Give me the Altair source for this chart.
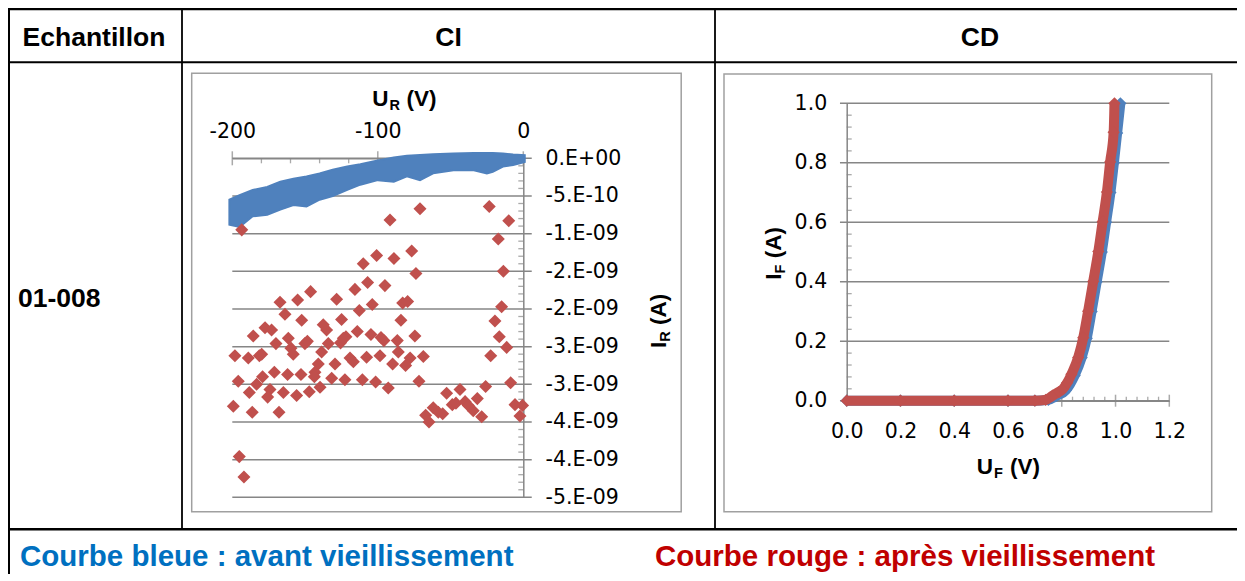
import altair as alt
import pandas as pd

# ---------------- data ----------------
# CI (reverse characteristic), after ageing (red markers): U_R in V, I_R in nA
CI_RED_U = [-193.5, -17.2, -76.7, -100.8, -88.9, -110.0, -13.7, -73.8, -107.0, -95.1,
            -115.7, -146.2, -167.2, -155.1, -128.3, -82.9, -79.5, -103.8, -112.7, -14.9,
            -163.8, -124.9, -152.3, -84.1, -19.5, -137.5, -135.2, -177.5, -173.0, -185.6,
            -114.1, -104.7, -121.9, -97.8, -95.8, -86.6, -74.5, -16.5, -161.5, -170.0,
            -150.1, -148.4, -134.0, -125.6, -123.7, -159.7, -158.1, -138.6, -11.4, -198.2,
            -189.0, -181.4, -179.8, -85.9, -107.7, -98.5, -77.8, -68.7, -22.4, -119.1,
            -116.8, -129.4, -140.9, -143.2, -89.8, -80.9, -171.1, -162.0, -152.8, -143.6,
            -131.7, -122.6, -110.6, -101.5, -92.8, -71.7, -8.7, -25.9, -179.2, -183.3,
            -195.9, -188.3, -174.1, -175.7, -164.9, -155.8, -147.1, -139.7, -199.3, -186.3,
            -167.9, -52.7, -43.5, -48.8, -46.3, -40.0, -31.6, -37.8, -34.4, -28.6,
            -61.9, -67.1, -64.8, -58.4, -55.4, -5.7, -0.5, -2.3, -195.2, -192.0,
            -91.6, -71.0, -23.4, -10.0]
CI_RED_I = [-0.95, -1.07, -1.23, -1.29, -1.33, -1.40, -1.50, -1.53, -1.65, -1.69,
            -1.74, -1.77, -1.91, -1.88, -1.87, -1.92, -1.90, -1.94, -2.02, -1.97,
            -2.07, -2.14, -2.15, -2.15, -2.16, -2.21, -2.28, -2.25, -2.28, -2.36,
            -2.30, -2.34, -2.37, -2.38, -2.42, -2.42, -2.36, -2.37, -2.39, -2.46,
            -2.46, -2.43, -2.46, -2.45, -2.39, -2.52, -2.60, -2.57, -2.51, -2.62,
            -2.65, -2.62, -2.60, -2.57, -2.64, -2.62, -2.65, -2.63, -2.62, -2.65,
            -2.70, -2.73, -2.73, -2.84, -2.73, -2.75, -2.84, -2.87, -2.87, -2.90,
            -2.92, -2.94, -2.94, -2.97, -3.05, -2.96, -2.98, -3.03, -2.90, -3.00,
            -2.96, -3.11, -3.07, -3.17, -3.11, -3.15, -3.10, -3.04, -3.29, -3.37,
            -3.37, -3.12, -3.07, -3.27, -3.25, -3.23, -3.19, -3.28, -3.35, -3.43,
            -3.31, -3.41, -3.50, -3.37, -3.39, -3.27, -3.28, -3.42, -3.96, -4.23,
            -0.82, -0.67, -0.64, -0.83]

# CI before ageing (blue): dense markers forming a band; upper / lower envelope (nA)
CI_BLUE_U = [-202, -195, -186, -176, -167, -158, -149, -140, -131, -121, -112, -100,
             -89, -80, -71, -62, -48, -34, -25, -21, -14, -7, 1]
CI_BLUE_HI = [-0.55, -0.49, -0.42, -0.38, -0.31, -0.27, -0.24, -0.20, -0.15, -0.11, -0.08, -0.03,
              0.01, 0.035, 0.045, 0.055, 0.065, 0.07, 0.07, 0.07, 0.065, 0.05, 0.04]
CI_BLUE_LO = [-0.88, -0.91, -0.77, -0.75, -0.68, -0.62, -0.64, -0.55, -0.50, -0.42, -0.35, -0.29,
              -0.31, -0.24, -0.29, -0.20, -0.16, -0.16, -0.20, -0.18, -0.11, -0.09, -0.05]

# CD (forward characteristic): U_F in V, I_F in A
CD_BLUE_U = [0.0, 0.2, 0.4, 0.6, 0.7, 0.75, 0.778, 0.815, 0.848, 0.874, 0.893, 0.911,
             0.930, 0.949, 0.965, 0.981, 0.994, 1.006, 1.018]
CD_BLUE_I = [0.0, 0.0, 0.0, 0.0, 0.0, 0.003, 0.015, 0.035, 0.085, 0.145, 0.21, 0.30,
             0.40, 0.50, 0.60, 0.70, 0.80, 0.90, 1.0]
CD_RED_U = [0.0, 0.2, 0.4, 0.6, 0.7, 0.74, 0.766, 0.79, 0.804, 0.82, 0.836, 0.861,
            0.880, 0.898, 0.917, 0.936, 0.952, 0.968, 0.980, 0.993, 0.996]
CD_RED_I = [0.0, 0.0, 0.0, 0.0, 0.0, 0.003, 0.017, 0.03, 0.039, 0.06, 0.089, 0.145,
            0.212, 0.301, 0.401, 0.502, 0.602, 0.702, 0.803, 0.903, 1.0]

# axes
CI_X_TICKS = [-200, -100, 0]
CI_X_MINOR = [-180, -160, -140, -120, -80, -60, -40, -20]
CI_Y_TICKS = [0, -0.5, -1.0, -1.5, -2.0, -2.5, -3.0, -3.5, -4.0, -4.5]   # nA
CI_Y_LABELS = ["0.E+00", "-5.E-10", "-1.E-09", "-2.E-09", "-2.E-09",
               "-3.E-09", "-3.E-09", "-4.E-09", "-4.E-09", "-5.E-09"]
CI_Y_MINOR = [round(-0.1 * k, 1) for k in range(1, 45) if k % 5 != 0]
CD_X_TICKS = [0.0, 0.2, 0.4, 0.6, 0.8, 1.0, 1.2]
CD_Y_TICKS = [0.0, 0.2, 0.4, 0.6, 0.8, 1.0]
CD_X_MINOR = [round(0.04 * k, 2) for k in range(1, 30) if k % 5 != 0]
CD_Y_MINOR = [round(0.04 * k, 2) for k in range(1, 25) if k % 5 != 0]

# ---------------- layout (page pixels) ----------------
W, H = 1229, 566
P = lambda v: v - 8

BLUE = "#4F81BD"
RED = "#C0504D"
GRID = "#868686"
FRAME = "#A0A0A0"
LBL_FONT = "DejaVu Sans"
TTL_FONT = "Liberation Sans"

ci_x = alt.Scale(domain=[-200, 0], range=[P(232.3), P(523.3)], nice=False, zero=False)
ci_y = alt.Scale(domain=[-4.5, 0], range=[P(497.3), P(158.3)], nice=False, zero=False)
cd_x = alt.Scale(domain=[0, 1.2], range=[P(846.7), P(1169.3)], nice=False, zero=False)
cd_y = alt.Scale(domain=[0, 1.0], range=[P(400.7), P(103.3)], nice=False, zero=False)

one = alt.Data(values=[{}])


def hline(y, x1, x2, w, color="black"):
    return alt.Chart(one).mark_rule(color=color, strokeWidth=w).encode(
        x=alt.value(P(x1)), x2=alt.value(P(x2)), y=alt.value(P(y)))


def vline(x, y1, y2, w, color="black"):
    return alt.Chart(one).mark_rule(color=color, strokeWidth=w).encode(
        x=alt.value(P(x)), y=alt.value(P(y1)), y2=alt.value(P(y2)))


def frame(x1, y1, x2, y2):
    return alt.Chart(one).mark_rect(fillOpacity=0, stroke=FRAME, strokeWidth=1.5).encode(
        x=alt.value(P(x1)), x2=alt.value(P(x2)), y=alt.value(P(y1)), y2=alt.value(P(y2)))


def txt(s, x, y, size, color="black", font=TTL_FONT, weight="bold", align="left", angle=0):
    return alt.Chart(one).mark_text(text=s, font=font, fontSize=size, fontWeight=weight,
                                    color=color, align=align, baseline="alphabetic",
                                    angle=angle).encode(x=alt.value(P(x)), y=alt.value(P(y)))


layers = []

# ---- table ----
layers += [
    hline(9.0, 0, 1260, 2.5),
    hline(62.2, 0, 1260, 2.0),
    hline(529.3, 0, 1260, 2.5),
    vline(9.0, 8, 600, 2.0),
    vline(182, 9, 529.3, 1.8),
    vline(715, 9, 529.3, 1.8),
    frame(191.7, 73.3, 681.2, 511.7),
    frame(724, 74, 1211.7, 511.7),
]

# ---- CI gridlines and ticks ----
ci_grid = pd.DataFrame({"v": CI_Y_TICKS})
layers.append(
    alt.Chart(ci_grid).mark_rule(color=GRID, strokeWidth=1.5).encode(
        y=alt.Y("v:Q", scale=ci_y, axis=None),
        x=alt.XDatum(-200, scale=ci_x, axis=None),
        x2=alt.X2Datum(5.8)))
layers.append(
    alt.Chart(pd.DataFrame({"v": CI_Y_MINOR})).mark_tick(
        orient="horizontal", color=GRID, thickness=1.3, xOffset=-2.5).encode(
        y=alt.Y("v:Q", scale=ci_y, axis=None),
        x=alt.XDatum(0, scale=ci_x, axis=None),
        size=alt.value(5)))
layers.append(
    alt.Chart(pd.DataFrame({"v": CI_X_MINOR})).mark_tick(
        orient="vertical", color=GRID, thickness=1.3, yOffset=2.5).encode(
        x=alt.X("v:Q", scale=ci_x, axis=None),
        y=alt.YDatum(0, scale=ci_y, axis=None),
        size=alt.value(5)))
layers.append(
    alt.Chart(pd.DataFrame({"v": CI_X_TICKS})).mark_tick(
        orient="vertical", color=GRID, thickness=1.5).encode(
        x=alt.X("v:Q", scale=ci_x, axis=None),
        y=alt.YDatum(0, scale=ci_y, axis=None),
        size=alt.value(14)))

# ---- CI data ----
ci_blue = pd.DataFrame({"U": CI_BLUE_U, "hi": CI_BLUE_HI, "lo": CI_BLUE_LO})
layers.append(
    alt.Chart(ci_blue).mark_area(color=BLUE, opacity=1, interpolate="linear",
                                 stroke=BLUE, strokeWidth=2, strokeJoin="miter").encode(
        x=alt.X("U:Q", scale=ci_x, axis=alt.Axis(
            orient="top", offset=-P(158.3), values=CI_X_TICKS, title=None, grid=False,
            ticks=False, tickSize=0, labelPadding=17, labelFlush=False, labelOverlap=False,
            labelExpr="toString(datum.value)",
            labelFont=LBL_FONT, labelFontSize=20.5, labelColor="black",
            domainColor=GRID, domainWidth=1.5)),
        y=alt.Y("hi:Q", scale=ci_y, axis=None),
        y2="lo:Q"))
ci_red = pd.DataFrame({"U": CI_RED_U, "I": CI_RED_I})
label_js = "[" + ",".join("'%s'" % s for s in CI_Y_LABELS) + "]"
layers.append(
    alt.Chart(ci_red).mark_point(shape="diamond", filled=True, size=170, opacity=1,
                                 color=RED).encode(
        x=alt.X("U:Q", scale=ci_x, axis=None),
        y=alt.Y("I:Q", scale=ci_y, axis=alt.Axis(
            orient="right", offset=P(523.3) - W, values=CI_Y_TICKS, title=None, grid=False,
            ticks=False, tickSize=0, labelPadding=21.7, labelAlign="left",
            labelFlush=False, labelOverlap=False,
            labelExpr=label_js + "[round(-datum.value * 2)]",
            labelFont=LBL_FONT, labelFontSize=20.5, labelColor="black",
            domainColor=GRID, domainWidth=1.5))))

# ---- CD gridlines and ticks ----
layers.append(
    alt.Chart(pd.DataFrame({"v": CD_Y_TICKS})).mark_rule(color=GRID, strokeWidth=1.5).encode(
        y=alt.Y("v:Q", scale=cd_y, axis=None),
        x=alt.XDatum(-0.025, scale=cd_x, axis=None),
        x2=alt.X2Datum(1.2)))
layers.append(
    alt.Chart(pd.DataFrame({"v": CD_Y_MINOR})).mark_tick(
        orient="horizontal", color=GRID, thickness=1.3, xOffset=2.5).encode(
        y=alt.Y("v:Q", scale=cd_y, axis=None),
        x=alt.XDatum(0, scale=cd_x, axis=None),
        size=alt.value(5)))
layers.append(
    alt.Chart(pd.DataFrame({"v": CD_X_MINOR})).mark_tick(
        orient="vertical", color=GRID, thickness=1.3, yOffset=-2).encode(
        x=alt.X("v:Q", scale=cd_x, axis=None),
        y=alt.YDatum(0, scale=cd_y, axis=None),
        size=alt.value(4)))
layers.append(
    alt.Chart(pd.DataFrame({"v": CD_X_TICKS})).mark_tick(
        orient="vertical", color=GRID, thickness=1.5).encode(
        x=alt.X("v:Q", scale=cd_x, axis=None),
        y=alt.YDatum(0, scale=cd_y, axis=None),
        size=alt.value(12)))

# ---- CD data ----
cd_blue = pd.DataFrame({"U": CD_BLUE_U, "I": CD_BLUE_I})
cd_red = pd.DataFrame({"U": CD_RED_U, "I": CD_RED_I})
layers.append(
    alt.Chart(cd_blue).mark_line(color=BLUE, strokeWidth=10, interpolate="monotone",
                                 strokeJoin="round").encode(
        x=alt.X("U:Q", scale=cd_x, axis=alt.Axis(
            orient="bottom", offset=P(400.7) - H, values=CD_X_TICKS, format=".1f",
            title=None, grid=False, ticks=False, tickSize=0, labelPadding=20.5,
            labelFlush=False, labelOverlap=False,
            labelFont=LBL_FONT, labelFontSize=20.5, labelColor="black",
            domainColor=GRID, domainWidth=1.5)),
        y=alt.Y("I:Q", scale=cd_y, axis=alt.Axis(
            orient="left", offset=-P(846.7), values=CD_Y_TICKS, format=".1f",
            title=None, grid=False, ticks=False, tickSize=0, labelPadding=20,
            labelFlush=False, labelOverlap=False,
            labelFont=LBL_FONT, labelFontSize=20.5, labelColor="black",
            domainColor=GRID, domainWidth=1.5))))
layers.append(
    alt.Chart(cd_blue).mark_point(shape="diamond", filled=True, size=150, opacity=1,
                                  color=BLUE).encode(
        x=alt.X("U:Q", scale=cd_x, axis=None),
        y=alt.Y("I:Q", scale=cd_y, axis=None)))
layers.append(
    alt.Chart(cd_red).mark_line(color=RED, strokeWidth=10, interpolate="monotone",
                                strokeJoin="round").encode(
        x=alt.X("U:Q", scale=cd_x, axis=None),
        y=alt.Y("I:Q", scale=cd_y, axis=None)))
layers.append(
    alt.Chart(cd_red).mark_point(shape="diamond", filled=True, size=150, opacity=1,
                                 color=RED).encode(
        x=alt.X("U:Q", scale=cd_x, axis=None),
        y=alt.Y("I:Q", scale=cd_y, axis=None)))

# ---- axis titles (with subscripts) ----
layers += [
    txt("U", 372.3, 105.7, 22.5),
    txt("R", 389.5, 110, 14.5),
    txt("(V)", 406.6, 105.7, 22.5),
    txt("I", 666, 348, 22.5, angle=270),
    txt("R", 670, 341.7, 14.5, angle=270),
    txt("(A)", 666, 325, 22.5, angle=270),
    txt("U", 976.7, 474, 22.5),
    txt("F", 994, 478, 14.5),
    txt("(V)", 1010, 474, 22.5),
    txt("I", 781, 279.7, 22.5, angle=270),
    txt("F", 785, 273.4, 14.5, angle=270),
    txt("(A)", 781, 258.2, 22.5, angle=270),
]

# ---- table text ----
layers += [
    txt("Echantillon", 94, 45.7, 26.5, align="center"),
    txt("CI", 448.5, 45.7, 26.5, align="center"),
    txt("CD", 980, 45.7, 26.5, align="center"),
    txt("01-008", 18, 306.5, 26.5),
    txt("Courbe bleue : avant vieillissement", 20, 566, 29.5, color="#0070C0"),
    txt("Courbe rouge : après vieillissement", 655, 566, 29.5, color="#C00000"),
]

chart = alt.layer(*layers).resolve_scale(
    x="independent", y="independent").resolve_axis(
    x="independent", y="independent").properties(
    width=W, height=H, padding=0,
    autosize=alt.AutoSizeParams(type="none")).configure_view(stroke=None)

chart.save("out.html", embed_options={"renderer": "svg", "actions": False})
